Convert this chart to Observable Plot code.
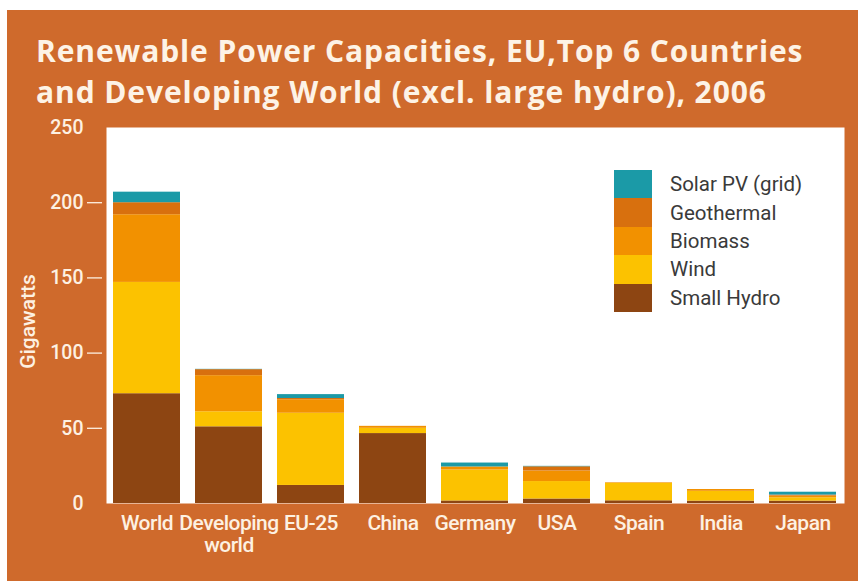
<!DOCTYPE html>
<html>
<head>
<meta charset="utf-8">
<script src="https://cdn.jsdelivr.net/npm/d3@7"></script>
<script src="https://cdn.jsdelivr.net/npm/@observablehq/plot@0.6"></script>
<style>
  html, body { margin: 0; padding: 0; background: #ffffff; }
  #panel { position: absolute; left: 7px; top: 10px; width: 851px; height: 571px; background: #cf6a2c; overflow: hidden; }
  #title { position: absolute; left: 29px; top: 20px; color: #fdf3e6; font-family: "Open Sans", sans-serif; font-weight: 700; font-size: 30px; line-height: 41px; white-space: nowrap; letter-spacing: 0.9px; }
  #chart { position: absolute; left: 0; top: 110px; }
  #legend { position: absolute; left: 607px; top: 160px; font-family: Roboto, sans-serif; font-size: 20.5px; color: #3a3a3a; }
  .row { display: flex; align-items: center; height: 28.4px; }
  .sw { width: 38px; height: 28.4px; margin-right: 18px; }
  #chart g[aria-label="x-axis tick label"] text { letter-spacing: -0.5px; }
</style>
</head>
<body>
<div id="panel">
  <div id="title"><span id="t1">Renewable Power Capacities, EU,Top 6 Countries</span><br><span>and Developing World (excl. large hydro), 2006</span></div>
  <div id="chart"></div>
  <div id="legend"></div>
</div>
<script>
// ---- data ----
const categories = ["World", "Developing world", "EU-25", "China", "Germany", "USA", "Spain", "India", "Japan"];
const tickLabels = ["World", "Developing\nworld", "EU-25", "China", "Germany", "USA", "Spain", "India", "Japan"];
const sources = ["Small Hydro", "Wind", "Biomass", "Geothermal", "Solar PV (grid)"];
const smallHydro = [73, 51, 12, 46.5, 1.7, 3.0, 1.8, 1.6, 1.6];
const wind       = [74, 10, 48, 3.5, 20.6, 11.6, 11.6, 6.5, 2.2];
const biomass    = [45, 24, 9, 1.3, 2.0, 7.0, 0.4, 1.2, 1.1];
const geothermal = [8, 4, 0.8, 0, 0, 2.8, 0, 0, 0.7];
const solarPV    = [7, 0.2, 2.6, 0, 2.6, 0.3, 0, 0, 1.9];
const yTicks = [0, 50, 100, 150, 200, 250];
const colors = ["#8d4512", "#fcc200", "#f29100", "#d8700e", "#1b9aa7"];
const legendOrder = ["Solar PV (grid)", "Geothermal", "Biomass", "Wind", "Small Hydro"];

const series = [smallHydro, wind, biomass, geothermal, solarPV];
const rows = [];
categories.forEach((c, i) => {
  sources.forEach((s, j) => rows.push({country: c, source: s, value: series[j][i]}));
});
const labelOf = new Map(categories.map((c, i) => [c, tickLabels[i]]));
const cream = "#fdf1e2";

const chart = Plot.plot({
  width: 851,
  height: 461,
  marginTop: 7,
  marginBottom: 78,
  marginLeft: 99,
  marginRight: 14,
  style: {background: "transparent", fontFamily: "Roboto, sans-serif", overflow: "visible"},
  x: {domain: categories, paddingInner: 0.18, paddingOuter: 0.09, label: null},
  y: {domain: [0, 250], label: null},
  color: {domain: sources, range: colors},
  marks: [
    Plot.frame({fill: "#ffffff", stroke: null}),
    Plot.barY(rows, {x: "country", y: "value", fill: "source"}),
    Plot.axisY({ticks: yTicks.filter(v => v > 0 && v < 250), tickSize: 15, dx: -4, stroke: cream, strokeWidth: 1.3, text: null, label: null}),
    Plot.axisY({ticks: yTicks, tickSize: 0, tickPadding: 23, fill: cream, fontSize: 19.5, fontWeight: 500, label: null}),
    Plot.axisX({tickSize: 0, tickPadding: 11, fill: cream, fontSize: 21, fontWeight: 500, lineHeight: 1.05, tickFormat: d => labelOf.get(d), label: null}),
    Plot.text(["Gigawatts"], {text: d => d, frameAnchor: "left", textAnchor: "middle", rotate: -90, dx: -78, dy: 6, fill: cream, fontSize: 21, fontWeight: 500})
  ]
});
document.getElementById("chart").appendChild(chart);

const legend = document.getElementById("legend");
legendOrder.forEach(s => {
  const r = document.createElement("div");
  r.className = "row";
  const sw = document.createElement("div");
  sw.className = "sw";
  sw.style.background = colors[sources.indexOf(s)];
  const t = document.createElement("span");
  t.textContent = s;
  r.appendChild(sw); r.appendChild(t);
  legend.appendChild(r);
});
</script>
</body>
</html>
